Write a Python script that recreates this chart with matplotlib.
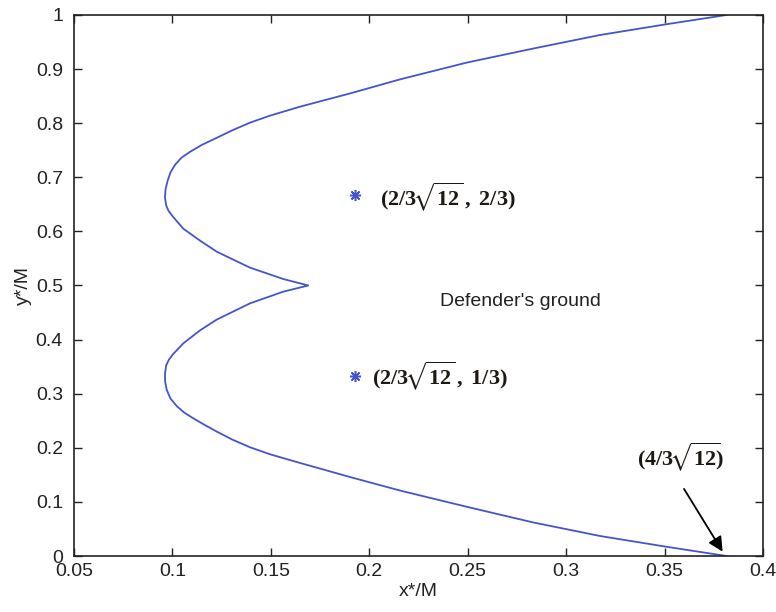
import matplotlib
matplotlib.use("Agg")
import matplotlib.pyplot as plt

plt.rcParams['font.family'] = ['Liberation Sans', 'DejaVu Sans']
plt.rcParams['mathtext.fontset'] = 'custom'
plt.rcParams['mathtext.rm'] = 'Liberation Serif:bold'
plt.rcParams['mathtext.it'] = 'Liberation Serif:bold'
plt.rcParams['mathtext.bf'] = 'Liberation Serif:bold'
plt.rcParams['mathtext.fallback'] = 'stix'

# Boundary curve (x*/M, y*/M)
curve_x = [0.3815, 0.3511, 0.3172, 0.2833, 0.2495, 0.2156, 0.1902, 0.1648, 0.1496, 0.1394,
           0.1305, 0.1225, 0.1165, 0.1106, 0.1060, 0.1022, 0.0990, 0.0971, 0.0963, 0.0962,
           0.0968, 0.0982, 0.1003, 0.1055, 0.1140, 0.1225, 0.1394, 0.1563,
           0.169,
           0.1563, 0.1394, 0.1225, 0.1140, 0.1055, 0.1003, 0.0980, 0.0968, 0.0962, 0.0965,
           0.0975, 0.0990, 0.1013, 0.1045, 0.1089, 0.1150, 0.1225, 0.1305, 0.1394, 0.1496,
           0.1648, 0.1902, 0.2156, 0.2495, 0.2833, 0.3172, 0.3511, 0.3815]
curve_y = [0.000, 0.017, 0.037, 0.062, 0.091, 0.121, 0.146, 0.172, 0.188, 0.201,
           0.215, 0.230, 0.242, 0.2545, 0.265, 0.277, 0.291, 0.307, 0.322, 0.337,
           0.352, 0.363, 0.373, 0.393, 0.417, 0.437, 0.467, 0.4886,
           0.500,
           0.512, 0.533, 0.5625, 0.583, 0.605, 0.627, 0.638, 0.648, 0.663, 0.678,
           0.693, 0.709, 0.723, 0.736, 0.747, 0.760, 0.773, 0.787, 0.801, 0.814,
           0.8305, 0.855, 0.881, 0.912, 0.938, 0.963, 0.983, 1.000]

# Marked points
pts_x = [0.1925, 0.1925]
pts_y = [0.6667, 0.3333]
pts_labels = [r'$(2/3\!\sqrt{12}\,,\;2/3)$', r'$(2/3\!\sqrt{12}\,,\;1/3)$']
label_pos = [(0.2054, 0.664), (0.2014, 0.333)]

end_label = r'$(4/3\!\sqrt{12}\!)$'
end_text_pos = (0.3578, 0.184)
arrow_tail = (0.3599, 0.124)
arrow_head = (0.3795, 0.008)

xticks = [0.05, 0.1, 0.15, 0.2, 0.25, 0.3, 0.35, 0.4]
xticklabels = ['0.05', '0.1', '0.15', '0.2', '0.25', '0.3', '0.35', '0.4']
yticks = [0, 0.1, 0.2, 0.3, 0.4, 0.5, 0.6, 0.7, 0.8, 0.9, 1]
yticklabels = ['0', '0.1', '0.2', '0.3', '0.4', '0.5', '0.6', '0.7', '0.8', '0.9', '1']

line_color = '#4455cc'
text_color = '#1e1812'

fig = plt.figure(figsize=(7.76, 6.12), dpi=100)
ax = fig.add_axes([0.0954, 0.0915, 0.8878, 0.884])

ax.plot(curve_x, curve_y, color=line_color, lw=1.3)
ax.plot(pts_x, pts_y, linestyle='none', marker=(8, 2, 0), markersize=8,
        markeredgewidth=1.1, color=line_color)

for (lx, ly), lab in zip(label_pos, pts_labels):
    ax.text(lx, ly, lab, fontsize=16, color=text_color, ha='left', va='center')

ax.text(0.2766, 0.471, "Defender's ground", fontsize=14, color='#222222',
        ha='center', va='center')

ax.text(end_text_pos[0], end_text_pos[1], end_label, fontsize=16,
        color=text_color, ha='center', va='center')
ax.annotate('', xy=arrow_head, xytext=arrow_tail,
            arrowprops=dict(arrowstyle='-|>', color='black', lw=1.3,
                            mutation_scale=22, shrinkA=0, shrinkB=0))

ax.set_xlim(0.05, 0.4)
ax.set_ylim(0, 1)
ax.set_xticks(xticks)
ax.set_xticklabels(xticklabels)
ax.set_yticks(yticks)
ax.set_yticklabels(yticklabels)
ax.tick_params(direction='in', length=6, width=1, top=True, right=True,
               labelsize=14, colors='#222222')
ax.tick_params(axis='x', pad=5)
ax.tick_params(axis='y', pad=8)
for s in ax.spines.values():
    s.set_linewidth(1.2)
    s.set_color('#222222')

ax.set_xlabel('x*/M', fontsize=14, labelpad=2, color='#222222')
ax.set_ylabel('y*/M', fontsize=14, labelpad=3, color='#222222')

fig.savefig('out.png', dpi=100)
